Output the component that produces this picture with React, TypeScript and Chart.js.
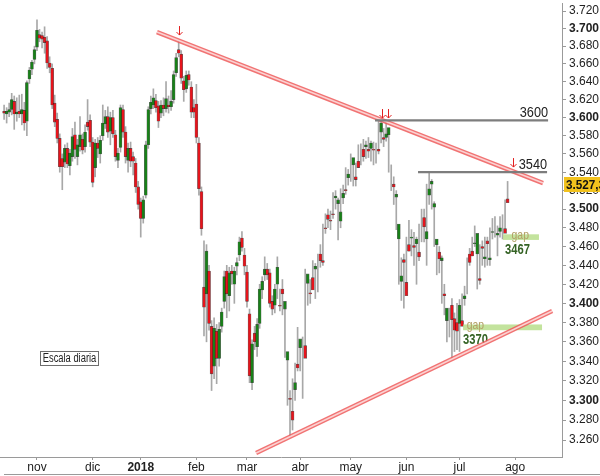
import React, { useEffect, useRef } from 'react';
import { Chart, registerables } from 'chart.js';

Chart.register(...registerables);

// Daily OHLC, index 0 = 13 Oct 2017 ... index 199 = 27 Jul 2018
const OPEN = [
  3607, 3604, 3606, 3609, 3618, 3604, 3607, 3604, 3608, 3596,
  3643, 3654, 3665, 3679, 3693, 3692, 3690, 3686, 3661, 3655,
  3616, 3598, 3577, 3555, 3551, 3566, 3547, 3557, 3581, 3557,
  3568, 3576, 3568, 3595, 3597, 3573, 3545, 3572, 3560, 3580,
  3593, 3601, 3585, 3600, 3581, 3553, 3567, 3609, 3584, 3553,
  3566, 3557, 3550, 3524, 3508, 3490, 3515, 3570, 3610, 3614,
  3619, 3613, 3605, 3614, 3610, 3614, 3612, 3620, 3650, 3676,
  3671, 3641, 3632, 3648, 3634, 3611, 3615, 3572, 3519, 3417,
  3410, 3434, 3376, 3335, 3371, 3343, 3376, 3402, 3434, 3408,
  3434, 3420, 3439, 3451, 3469, 3451, 3433, 3389, 3318, 3369,
  3355, 3379, 3414, 3430, 3436, 3432, 3402, 3398, 3420, 3398,
  3415, 3394, 3341, 3302, 3289, 3311, 3337, 3354, 3350, 3356,
  3421, 3411, 3427, 3436, 3422, 3452, 3445, 3480, 3494, 3488,
  3495, 3512, 3506, 3487, 3512, 3521, 3534, 3538, 3548, 3535,
  3552, 3565, 3565, 3568, 3565, 3566, 3565, 3566, 3565, 3584,
  3578, 3578, 3581, 3543, 3527, 3513, 3468, 3423, 3446, 3422,
  3462, 3469, 3461, 3463, 3454, 3476, 3491, 3468, 3515, 3527,
  3502, 3462, 3454, 3445, 3410, 3382, 3372, 3398, 3384, 3380,
  3379, 3382, 3405, 3413, 3452, 3455, 3463, 3452, 3426, 3460,
  3447, 3466, 3446, 3475, 3486, 3472, 3476, 3487, 3479, 3511,
];
const HIGH = [
  3614, 3611, 3616, 3627, 3624, 3622, 3625, 3626, 3617, 3641,
  3656, 3664, 3680, 3710, 3699, 3696, 3702, 3691, 3668, 3660,
  3625, 3605, 3582, 3560, 3570, 3572, 3565, 3588, 3595, 3576,
  3601, 3582, 3592, 3620, 3603, 3578, 3576, 3578, 3580, 3614,
  3608, 3612, 3606, 3608, 3586, 3566, 3614, 3614, 3590, 3572,
  3573, 3562, 3555, 3530, 3512, 3514, 3574, 3612, 3624, 3632,
  3626, 3618, 3619, 3622, 3640, 3624, 3630, 3652, 3672, 3687,
  3675, 3646, 3652, 3652, 3640, 3620, 3637, 3578, 3524, 3466,
  3462, 3440, 3382, 3385, 3378, 3380, 3395, 3434, 3440, 3438,
  3440, 3438, 3448, 3470, 3476, 3458, 3440, 3394, 3362, 3376,
  3384, 3420, 3428, 3449, 3442, 3436, 3408, 3420, 3449, 3415,
  3425, 3398, 3345, 3310, 3322, 3338, 3375, 3360, 3365, 3436,
  3430, 3425, 3445, 3442, 3452, 3462, 3484, 3495, 3500, 3498,
  3518, 3520, 3512, 3522, 3526, 3545, 3543, 3560, 3552, 3550,
  3570, 3571, 3576, 3574, 3578, 3574, 3573, 3572, 3598, 3596,
  3588, 3596, 3586, 3548, 3535, 3520, 3475, 3448, 3452, 3470,
  3488, 3478, 3475, 3470, 3484, 3500, 3500, 3527, 3541, 3532,
  3508, 3466, 3460, 3450, 3420, 3392, 3395, 3405, 3390, 3400,
  3404, 3410, 3418, 3448, 3458, 3470, 3482, 3458, 3462, 3466,
  3470, 3470, 3480, 3490, 3492, 3482, 3492, 3494, 3510, 3530,
];
const LOW = [
  3598, 3594, 3601, 3603, 3587, 3596, 3600, 3592, 3586, 3580,
  3638, 3648, 3660, 3675, 3685, 3678, 3672, 3655, 3650, 3610,
  3590, 3572, 3540, 3521, 3545, 3545, 3537, 3552, 3555, 3548,
  3563, 3560, 3562, 3586, 3568, 3524, 3535, 3556, 3550, 3575,
  3588, 3578, 3570, 3578, 3552, 3545, 3562, 3578, 3550, 3540,
  3546, 3537, 3518, 3500, 3470, 3485, 3512, 3566, 3604, 3610,
  3606, 3589, 3600, 3602, 3606, 3605, 3608, 3616, 3646, 3668,
  3638, 3618, 3628, 3636, 3600, 3600, 3572, 3515, 3472, 3366,
  3360, 3372, 3310, 3322, 3317, 3335, 3370, 3395, 3385, 3392,
  3420, 3400, 3430, 3445, 3455, 3430, 3396, 3318, 3311, 3352,
  3345, 3374, 3405, 3424, 3425, 3396, 3388, 3390, 3405, 3392,
  3388, 3344, 3295, 3263, 3270, 3300, 3330, 3330, 3302, 3350,
  3398, 3400, 3420, 3405, 3412, 3438, 3440, 3474, 3480, 3478,
  3490, 3500, 3467, 3480, 3506, 3516, 3526, 3530, 3525, 3525,
  3545, 3548, 3552, 3555, 3556, 3552, 3548, 3550, 3560, 3572,
  3568, 3574, 3540, 3520, 3505, 3478, 3420, 3403, 3395, 3410,
  3455, 3450, 3440, 3420, 3445, 3465, 3465, 3440, 3505, 3500,
  3460, 3430, 3432, 3400, 3388, 3360, 3365, 3343, 3350, 3352,
  3350, 3378, 3398, 3410, 3440, 3450, 3460, 3415, 3420, 3440,
  3438, 3440, 3440, 3468, 3470, 3450, 3470, 3468, 3476, 3509,
];
const CLOSE = [
  3605, 3607, 3609, 3620, 3604, 3606, 3604, 3609, 3594, 3639,
  3653, 3662, 3676, 3698, 3689, 3688, 3684, 3661, 3656, 3614,
  3595, 3577, 3546, 3546, 3566, 3549, 3561, 3579, 3565, 3570,
  3581, 3564, 3584, 3590, 3573, 3529, 3572, 3566, 3575, 3594,
  3601, 3584, 3600, 3582, 3557, 3561, 3611, 3584, 3557, 3566,
  3552, 3552, 3524, 3505, 3490, 3510, 3570, 3609, 3617, 3622,
  3611, 3596, 3614, 3610, 3621, 3612, 3618, 3648, 3667, 3672,
  3644, 3631, 3647, 3642, 3606, 3606, 3578, 3522, 3479, 3396,
  3455, 3379, 3327, 3374, 3343, 3373, 3391, 3428, 3410, 3432,
  3431, 3434, 3443, 3465, 3459, 3439, 3402, 3325, 3358, 3360,
  3378, 3415, 3423, 3436, 3430, 3400, 3394, 3415, 3438, 3397,
  3410, 3402, 3350, 3301, 3280, 3318, 3333, 3363, 3350, 3343,
  3431, 3410, 3414, 3439, 3422, 3445, 3443, 3479, 3489, 3487,
  3494, 3514, 3510, 3497, 3517, 3520, 3538, 3538, 3556, 3532,
  3545, 3565, 3557, 3570, 3563, 3572, 3564, 3566, 3563, 3594,
  3576, 3582, 3589, 3543, 3524, 3516, 3484, 3429, 3443, 3408,
  3455, 3470, 3459, 3468, 3449, 3476, 3481, 3476, 3522, 3530,
  3506, 3468, 3447, 3448, 3408, 3395, 3372, 3383, 3372, 3371,
  3398, 3376, 3408, 3413, 3443, 3450, 3464, 3474, 3424, 3458,
  3449, 3463, 3448, 3476, 3486, 3474, 3480, 3487, 3474, 3507,
];

const MONTH_TICKS = [13, 35, 54, 76, 96, 117, 137, 159, 180, 202];
const MONTH_LABELS = ['nov', 'dic', '2018', 'feb', 'mar', 'abr', 'may', 'jun', 'jul', 'ago'];
const PRICE_TICKS = [
  3260, 3280, 3300, 3320, 3340, 3360, 3380, 3400, 3420, 3440, 3460, 3480,
  3500, 3520, 3540, 3560, 3580, 3600, 3620, 3640, 3660, 3680, 3700, 3720,
];
const LAST_PRICE = 3527;
const LAST_PRICE_TEXT = '3.527,3';

const Y_MIN = 3243.0;
const Y_MAX = 3729.2;
const X_MIN = -1.62;
const X_MAX = 220.5;

// annotations, in data coordinates (index, price)
const TRENDLINES = [
  { x1: 60.4, p1: 3696, x2: 213, p2: 3528.2 },
  { x1: 99.6, p1: 3247, x2: 216.6, p2: 3392 },
];
const LEVELS = [
  { price: 3597, from: 146.6, to: 215, label: '3600' },
  { price: 3540, from: 163.6, to: 214.6, label: '3540' },
];
const ARROWS = [
  { x: 69, p: 3692.6 },
  { x: 149.4, p: 3599.5 },
  { x: 151.7, p: 3599.5 },
  { x: 201.2, p: 3545.6 },
];
const GAPS = [
  { from: 197.2, to: 211.4, lo: 3467, hi: 3473, gapX: 204, labelX: 198, label: '3467' },
  { from: 181.4, to: 212.6, lo: 3372, hi: 3378, gapX: 186.3, labelX: 181.4, label: '3370' },
];
const NOTE = 'Escala diaria';

const FONT = '"Liberation Sans", Arial, sans-serif';
const GREEN = '#188018';
const RED = '#e6141c';

function narrowText(ctx: any, text: string, x: number, y: number, font: string, align: 'left' | 'right' | 'center', squeeze: number) {
  ctx.save();
  ctx.font = font;
  ctx.textAlign = align;
  ctx.translate(x, y);
  ctx.scale(squeeze, 1);
  ctx.fillText(text, 0, 0);
  ctx.restore();
}

const annotPlugin = {
  id: 'annot',
  afterDatasetsDraw(chart: any) {
    const { ctx } = chart;
    const xs = chart.scales.x;
    const ys = chart.scales.y;
    ctx.save();

    // gap zones
    for (const g of GAPS) {
      const x1 = xs.getPixelForValue(g.from);
      const x2 = xs.getPixelForValue(g.to);
      const y1 = ys.getPixelForValue(g.hi);
      const y2 = ys.getPixelForValue(g.lo);
      ctx.fillStyle = 'rgba(185,222,140,0.85)';
      ctx.fillRect(x1, y1, x2 - x1, y2 - y1);
      ctx.fillStyle = '#b3a066';
      ctx.textBaseline = 'alphabetic';
      narrowText(ctx, 'gap', xs.getPixelForValue(g.gapX), y2 - 1, '13px ' + FONT, 'center', 0.8);
      ctx.fillStyle = '#356325';
      ctx.textBaseline = 'top';
      narrowText(ctx, g.label, xs.getPixelForValue(g.labelX), y2 + 3, 'bold 14px ' + FONT, 'left', 0.8);
    }

    // trend lines
    for (const t of TRENDLINES) {
      const ax = xs.getPixelForValue(t.x1);
      const ay = ys.getPixelForValue(t.p1);
      const bx = xs.getPixelForValue(t.x2);
      const by = ys.getPixelForValue(t.p2);
      ctx.lineCap = 'butt';
      ctx.strokeStyle = 'rgba(238,90,90,0.85)';
      ctx.lineWidth = 4.5;
      ctx.beginPath(); ctx.moveTo(ax, ay); ctx.lineTo(bx, by); ctx.stroke();
      ctx.strokeStyle = '#fbd2d2';
      ctx.lineWidth = 1.6;
      ctx.beginPath(); ctx.moveTo(ax, ay); ctx.lineTo(bx, by); ctx.stroke();
    }

    // horizontal levels
    for (const l of LEVELS) {
      const yy = ys.getPixelForValue(l.price);
      const x1 = xs.getPixelForValue(l.from);
      const x2 = xs.getPixelForValue(l.to);
      ctx.strokeStyle = '#7d7d7d';
      ctx.lineWidth = 2.2;
      ctx.beginPath(); ctx.moveTo(x1, yy); ctx.lineTo(x2, yy); ctx.stroke();
      ctx.fillStyle = '#222';
      ctx.textBaseline = 'alphabetic';
      narrowText(ctx, l.label, x2, yy - 3, '15px ' + FONT, 'right', 0.85);
    }

    // arrows
    for (const a of ARROWS) {
      const ax = Math.round(xs.getPixelForValue(a.x)) + 0.5;
      const ay = ys.getPixelForValue(a.p);
      ctx.strokeStyle = '#e32020';
      ctx.lineWidth = 1;
      ctx.beginPath();
      ctx.moveTo(ax, ay - 9); ctx.lineTo(ax, ay);
      ctx.moveTo(ax - 3, ay - 3); ctx.lineTo(ax, ay); ctx.lineTo(ax + 3, ay - 3);
      ctx.stroke();
    }

    // note box
    ctx.fillStyle = '#fff';
    ctx.fillRect(40.5, 351.5, 58, 14);
    ctx.strokeStyle = '#6d6d6d';
    ctx.lineWidth = 1;
    ctx.strokeRect(40.5, 351.5, 58, 14);
    ctx.fillStyle = '#222';
    ctx.textBaseline = 'middle';
    narrowText(ctx, NOTE, 69.5, 359, '12px ' + FONT, 'center', 0.78);
    ctx.restore();
  },
  afterDraw(chart: any) {
    const { ctx } = chart;
    const ys = chart.scales.y;
    const yy = ys.getPixelForValue(LAST_PRICE);
    ctx.save();
    ctx.fillStyle = '#f2c21d';
    ctx.fillRect(564, Math.round(yy) - 7, 40, 15);
    ctx.fillStyle = '#111';
    ctx.textBaseline = 'middle';
    narrowText(ctx, LAST_PRICE_TEXT, 566, Math.round(yy) + 1, 'bold 13px ' + FONT, 'left', 0.9);
    ctx.fillStyle = '#9a9a9a';
    ctx.fillRect(4, 474, 596, 1);
    ctx.restore();
  },
};

export default function App() {
  const ref = useRef<HTMLCanvasElement | null>(null);

  useEffect(() => {
    if (!ref.current) return;
    const idx = CLOSE.map((_, i) => i);
    const chart = new Chart(ref.current, {
      type: 'bar',
      data: {
        datasets: [
          {
            label: 'wick',
            data: idx.map((i) => ({ x: i, y: [LOW[i], HIGH[i]] })) as any,
            backgroundColor: '#a8a8a8',
            borderWidth: 0,
            barThickness: 1,
            stack: 'candle',
            order: 2,
          } as any,
          {
            label: 'body',
            data: idx.map((i) => ({ x: i, y: [OPEN[i], CLOSE[i]] })) as any,
            backgroundColor: idx.map((i) => (CLOSE[i] >= OPEN[i] ? GREEN : RED)),
            borderColor: 'rgba(0,0,0,0.6)',
            borderWidth: 0.6,
            borderSkipped: false,
            barThickness: 3,
            stack: 'candle',
            order: 1,
          } as any,
        ],
      },
      options: {
        responsive: false,
        animation: false,
        devicePixelRatio: 1,
        events: [],
        layout: { padding: 0 },
        plugins: { legend: { display: false }, tooltip: { enabled: false } },
        scales: {
          x: {
            type: 'linear',
            min: X_MIN,
            max: X_MAX,
            offset: false,
            afterBuildTicks: (s: any) => {
              s.ticks = MONTH_TICKS.map((v) => ({ value: v }));
            },
            afterFit: (s: any) => {
              s.height = 19;
            },
            border: { display: true, color: '#9a9a9a', width: 1 },
            grid: { display: true, drawOnChartArea: false, drawTicks: true, tickLength: 3, color: '#9a9a9a', offset: false },
            ticks: {
              autoSkip: false,
              maxRotation: 0,
              padding: 0,
              color: '#222',
              font: (c: any) => ({ family: FONT, size: 12, weight: c.tick && c.tick.value === MONTH_TICKS[2] ? 'bold' : 'normal' }),
              callback: (_v: any, i: number) => MONTH_LABELS[i],
            },
          } as any,
          y: {
            type: 'logarithmic',
            position: 'right',
            stacked: false,
            min: Y_MIN,
            max: Y_MAX,
            afterBuildTicks: (s: any) => {
              s.ticks = [Y_MIN, ...PRICE_TICKS, Y_MAX].map((v) => ({ value: v }));
            },
            afterFit: (s: any) => {
              s.width = 38;
            },
            border: { display: true, color: '#9a9a9a', width: 1 },
            grid: {
              display: true,
              drawOnChartArea: false,
              drawTicks: true,
              tickLength: 4,
              color: (c: any) => (c.tick && (c.tick.value === Y_MIN || c.tick.value === Y_MAX) ? 'rgba(0,0,0,0)' : '#9a9a9a'),
            },
            ticks: {
              autoSkip: false,
              padding: 3,
              color: '#222',
              font: (c: any) => ({ family: FONT, size: 12, weight: c.tick && c.tick.value % 100 === 0 ? 'bold' : 'normal' }),
              callback: (v: any, i: number, arr: any[]) => (i === 0 || i === arr.length - 1 ? [] : (Number(v) / 1000).toFixed(3)),
            },
          } as any,
        },
      },
      plugins: [annotPlugin],
    });
    return () => chart.destroy();
  }, []);

  return (
    <div style={{ position: 'absolute', left: 0, top: 0, width: 600, height: 476, background: '#fff' }}>
      <canvas ref={ref} width={600} height={476} style={{ display: 'block' }} />
    </div>
  );
}
